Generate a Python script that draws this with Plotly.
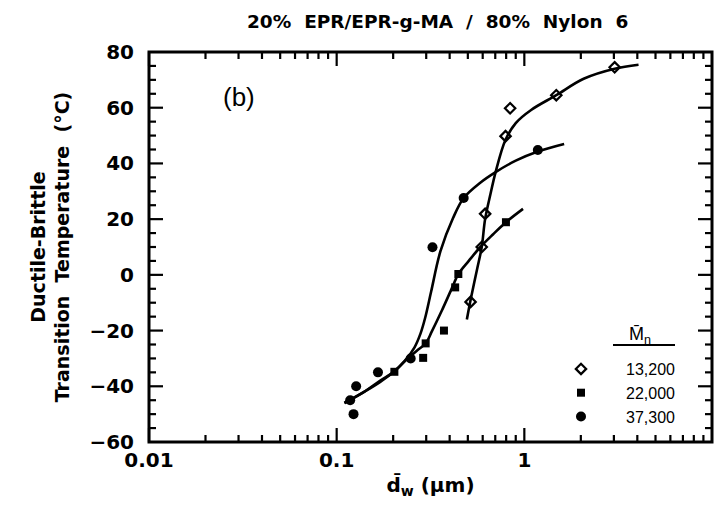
import math
import plotly.graph_objects as go

# ---- measured data: ductile-brittle transition temperature vs. particle size ----
# Mn = 13,200
d_13200 = [0.517, 0.593, 0.618, 0.794, 0.84, 1.48, 3.03]
T_13200 = [-9.7, 10.0, 21.9, 49.8, 59.8, 64.5, 74.5]
# Mn = 22,000
d_22000 = [0.203, 0.289, 0.298, 0.373, 0.428, 0.445, 0.798]
T_22000 = [-34.8, -29.8, -24.6, -20.0, -4.5, 0.3, 18.9]
# Mn = 37,300
d_37300 = [0.118, 0.123, 0.127, 0.166, 0.248, 0.324, 0.475, 1.18]
T_37300 = [-45.0, -50.0, -40.0, -35.0, -30.0, 9.9, 27.6, 44.8]

# ---- hand-drawn trend curves through each series ----
fit_d_13200 = [0.494, 0.517, 0.56, 0.593, 0.618, 0.66, 0.703, 0.794, 0.9, 1.087, 1.48, 2.07, 3.03, 4.06]
fit_T_13200 = [-16.0, -9.0, 2.0, 10.0, 20.0, 29.0, 36.9, 48.5, 54.5, 59.2, 64.5, 70.4, 74.0, 75.4]

fit_d_22000 = [0.11, 0.14, 0.17, 0.2, 0.235, 0.27, 0.298, 0.322, 0.363, 0.413, 0.445,
               0.507, 0.583, 0.68, 0.798, 0.984]
fit_T_22000 = [-46.0, -42.0, -38.5, -35.0, -30.5, -27.0, -24.6, -20.2, -12.9, -4.5, 0.3,
               5.1, 10.0, 14.5, 18.9, 23.7]

fit_d_37300 = [0.11, 0.14, 0.17, 0.2, 0.23, 0.26, 0.28, 0.296, 0.319, 0.357, 0.417,
               0.475, 0.58, 0.703, 0.9, 1.18, 1.63]
fit_T_37300 = [-46.0, -42.0, -38.0, -35.0, -31.0, -26.0, -21.0, -15.5, -5.9, 8.4, 20.4,
               27.6, 33.0, 36.9, 41.0, 44.3, 47.0]

series_names = ["13,200", "22,000", "37,300"]

x_tickvals = [0.01, 0.1, 1, 10]
x_ticktext = ["0.01", "0.1", "1", "10"]
y_tickvals = [-60, -40, -20, 0, 20, 40, 60, 80]

# ---- layout geometry (pixels) ----
W, H = 724, 516
L, R, T, B = 149, 12, 52, 74
PW, PH = W - L - R, H - T - B
X_LOG_MIN, X_LOG_MAX = -2, 1
Y_MIN, Y_MAX = -60, 80


def px(xp):
    return (xp - L) / PW


def py(yp):
    return (H - B - yp) / PH


BLACK = "#000000"
tick_font = dict(family="DejaVu Sans", size=20, color=BLACK, weight="bold")

fig = go.Figure()

# trend curves
for fd, ft in [(fit_d_13200, fit_T_13200), (fit_d_22000, fit_T_22000), (fit_d_37300, fit_T_37300)]:
    fig.add_trace(go.Scatter(
        x=fd, y=ft, mode="lines", showlegend=False, hoverinfo="skip",
        line=dict(color=BLACK, width=2.6, shape="spline", smoothing=1.0),
    ))

# data markers
fig.add_trace(go.Scatter(
    x=d_13200, y=T_13200, mode="markers", name=series_names[0],
    marker=dict(symbol="diamond-open", size=8, color=BLACK, line=dict(width=2.2, color=BLACK)),
))
fig.add_trace(go.Scatter(
    x=d_22000, y=T_22000, mode="markers", name=series_names[1],
    marker=dict(symbol="square", size=8, color=BLACK),
))
fig.add_trace(go.Scatter(
    x=d_37300, y=T_37300, mode="markers", name=series_names[2],
    marker=dict(symbol="circle", size=10, color=BLACK),
))

fig.update_layout(
    width=W, height=H,
    margin=dict(l=L, r=R, t=T, b=B, pad=0),
    paper_bgcolor="white", plot_bgcolor="white",
    font=dict(family="Liberation Sans", color=BLACK),
    legend=dict(
        x=px(536), y=py(352), xanchor="left", yanchor="top",
        bgcolor="rgba(0,0,0,0)", borderwidth=0,
        font=dict(family="Liberation Sans", size=16, color=BLACK),
        itemwidth=80, tracegroupgap=0,
    ),
    xaxis=dict(
        type="log", range=[X_LOG_MIN, X_LOG_MAX],
        tickmode="array", tickvals=x_tickvals, ticktext=x_ticktext,
        ticks="", showline=False, showgrid=False, zeroline=False,
        tickfont=tick_font, ticklabelstandoff=4,
        title=dict(
            text="d\u0304<sub>w</sub> (\u00b5m)",
            font=dict(family="DejaVu Sans", size=20, color=BLACK, weight="bold"),
            standoff=6,
        ),
    ),
    yaxis=dict(
        range=[Y_MIN, Y_MAX], tickmode="array", tickvals=y_tickvals,
        ticks="", showline=False, showgrid=False, zeroline=False,
        tickfont=tick_font, ticklabelstandoff=14,
        title=dict(
            text="Ductile-Brittle<br>Transition\u00a0\u00a0Temperature\u00a0\u00a0(\u00b0C)",
            font=dict(family="DejaVu Sans", size=19, color=BLACK, weight="bold"),
            standoff=14,
        ),
    ),
)

# ---- frame and inward tick marks on all four sides ----
fig.add_shape(type="rect", xref="paper", yref="paper", x0=0, x1=1, y0=0, y1=1,
              line=dict(color=BLACK, width=3), layer="above")

MAJOR_LEN, MINOR_LEN = 14, 7
tick_line = dict(color=BLACK, width=2.2)


def x_tick(frac, length):
    h = length / PH
    fig.add_shape(type="line", xref="paper", yref="paper", x0=frac, x1=frac, y0=0, y1=h,
                  line=tick_line, layer="above")
    fig.add_shape(type="line", xref="paper", yref="paper", x0=frac, x1=frac, y0=1, y1=1 - h,
                  line=tick_line, layer="above")


def y_tick(frac, length):
    w = length / PW
    fig.add_shape(type="line", xref="paper", yref="paper", x0=0, x1=w, y0=frac, y1=frac,
                  line=tick_line, layer="above")
    fig.add_shape(type="line", xref="paper", yref="paper", x0=1, x1=1 - w, y0=frac, y1=frac,
                  line=tick_line, layer="above")


for decade in range(X_LOG_MIN, X_LOG_MAX):
    x_tick((decade - X_LOG_MIN) / (X_LOG_MAX - X_LOG_MIN), MAJOR_LEN)
    for k in range(2, 10):
        lv = decade + math.log10(k)
        x_tick((lv - X_LOG_MIN) / (X_LOG_MAX - X_LOG_MIN), MINOR_LEN)

for v in range(Y_MIN, Y_MAX + 1, 5):
    if v in (Y_MIN, Y_MAX):
        continue
    y_tick((v - Y_MIN) / (Y_MAX - Y_MIN), MAJOR_LEN if v % 20 == 0 else MINOR_LEN)

# chart title
fig.add_annotation(
    x=px(437), y=py(21), xref="paper", yref="paper", showarrow=False,
    text="20%\u00a0 EPR/EPR-g-MA\u00a0 /\u00a0 80%\u00a0 Nylon\u00a0 6",
    font=dict(family="DejaVu Sans", size=18.5, color=BLACK, weight="bold"),
    xanchor="center", yanchor="middle",
)

# panel label
fig.add_annotation(
    x=px(221), y=py(97), xref="paper", yref="paper", showarrow=False,
    text="(b)", font=dict(family="Liberation Sans", size=26, color=BLACK),
    xanchor="left", yanchor="middle",
)

# legend header: number-average molecular weight
fig.add_annotation(
    x=px(640), y=py(335), xref="paper", yref="paper", showarrow=False,
    text="M\u0304<sub>n</sub>", font=dict(family="Liberation Sans", size=18, color=BLACK),
    xanchor="center", yanchor="middle",
)
fig.add_shape(
    type="line", xref="paper", yref="paper",
    x0=px(613), x1=px(675), y0=py(345), y1=py(345),
    line=dict(color=BLACK, width=2),
)

fig.write_html("out.html")
